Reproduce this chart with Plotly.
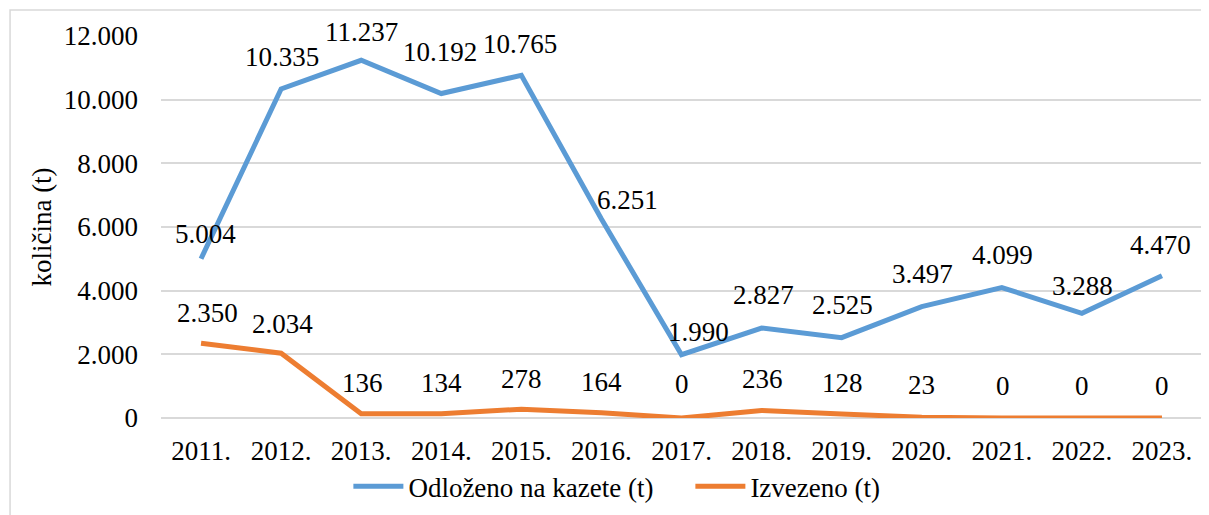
import plotly.graph_objects as go

years = ["2011.", "2012.", "2013.", "2014.", "2015.", "2016.", "2017.",
         "2018.", "2019.", "2020.", "2021.", "2022.", "2023."]
odlozeno = [5004, 10335, 11237, 10192, 10765, 6251, 1990, 2827, 2525, 3497, 4099, 3288, 4470]
izvezeno = [2350, 2034, 136, 134, 278, 164, 0, 236, 128, 23, 0, 0, 0]

# label offsets in px (x, y) - the labels were nudged by hand in the original
blue_off = [(4, 25), (1, 32), (0, 28), (-1, 42), (-1, 31), (26, 19), (17, 23),
            (2, 33), (1, 33), (1, 33), (1, 33), (1, 27), (-1, 31)]
orange_off = [(6, 30), (1, 29), (1, 31), (0, 31), (0, 30), (0, 31), (0, 34),
              (1, 31), (1, 31), (0, 32), (1, 32), (0, 32), (0, 32)]

BLUE = "#5B9BD5"
ORANGE = "#ED7D31"
FONT = "Liberation Serif"
FS = 27

fig = go.Figure()
fig.add_trace(go.Scatter(x=years, y=odlozeno, mode="lines", name="Odloženo na kazete (t)",
                         line=dict(color=BLUE, width=5)))
fig.add_trace(go.Scatter(x=years, y=izvezeno, mode="lines", name="Izvezeno (t)",
                         line=dict(color=ORANGE, width=5)))


def fmt(v):
    return f"{v:,}".replace(",", ".")


# category axis: annotations placed by category index
for vals, offs in ((odlozeno, blue_off), (izvezeno, orange_off)):
    for i, (v, (dx, dy)) in enumerate(zip(vals, offs)):
        fig.add_annotation(x=i, y=v, xref="x", yref="y", text=fmt(v),
                           showarrow=False, xshift=dx, yshift=dy,
                           font=dict(family=FONT, size=FS, color="black"))

# page body has an 8px margin, so the figure is 8px smaller than the window
fig.update_layout(
    width=1201,
    height=507,
    margin=dict(l=153, r=7, t=28, b=97, autoexpand=False),
    plot_bgcolor="white",
    paper_bgcolor="white",
    separators=",.",
    font=dict(family=FONT, size=FS, color="black"),
    showlegend=True,
    legend=dict(orientation="h", x=0.18, xanchor="left", y=-0.18, yanchor="middle",
                font=dict(family=FONT, size=FS), itemwidth=50,
                entrywidth=277, entrywidthmode="pixels", traceorder="normal"),
    shapes=[dict(type="rect", xref="paper", yref="paper", x0=-0.145, x1=1.0058,
                 y0=-0.3, y1=1.068, line=dict(color="#D9D9D9", width=1.5),
                 layer="below")],
)
fig.update_xaxes(type="category", range=[-0.5, 12.5], showgrid=False,
                 showline=False, ticks="", ticklabelstandoff=14)
fig.update_yaxes(range=[0, 12000], dtick=2000, tickformat=",d", showgrid=True,
                 gridcolor="#D9D9D9", gridwidth=1.5, zeroline=True,
                 zerolinecolor="#D9D9D9", zerolinewidth=1.5, showline=False,
                 ticklabelstandoff=22,
                 title=dict(text="količina (t)", standoff=4,
                            font=dict(family=FONT, size=FS)))

fig.write_html("out.html")
